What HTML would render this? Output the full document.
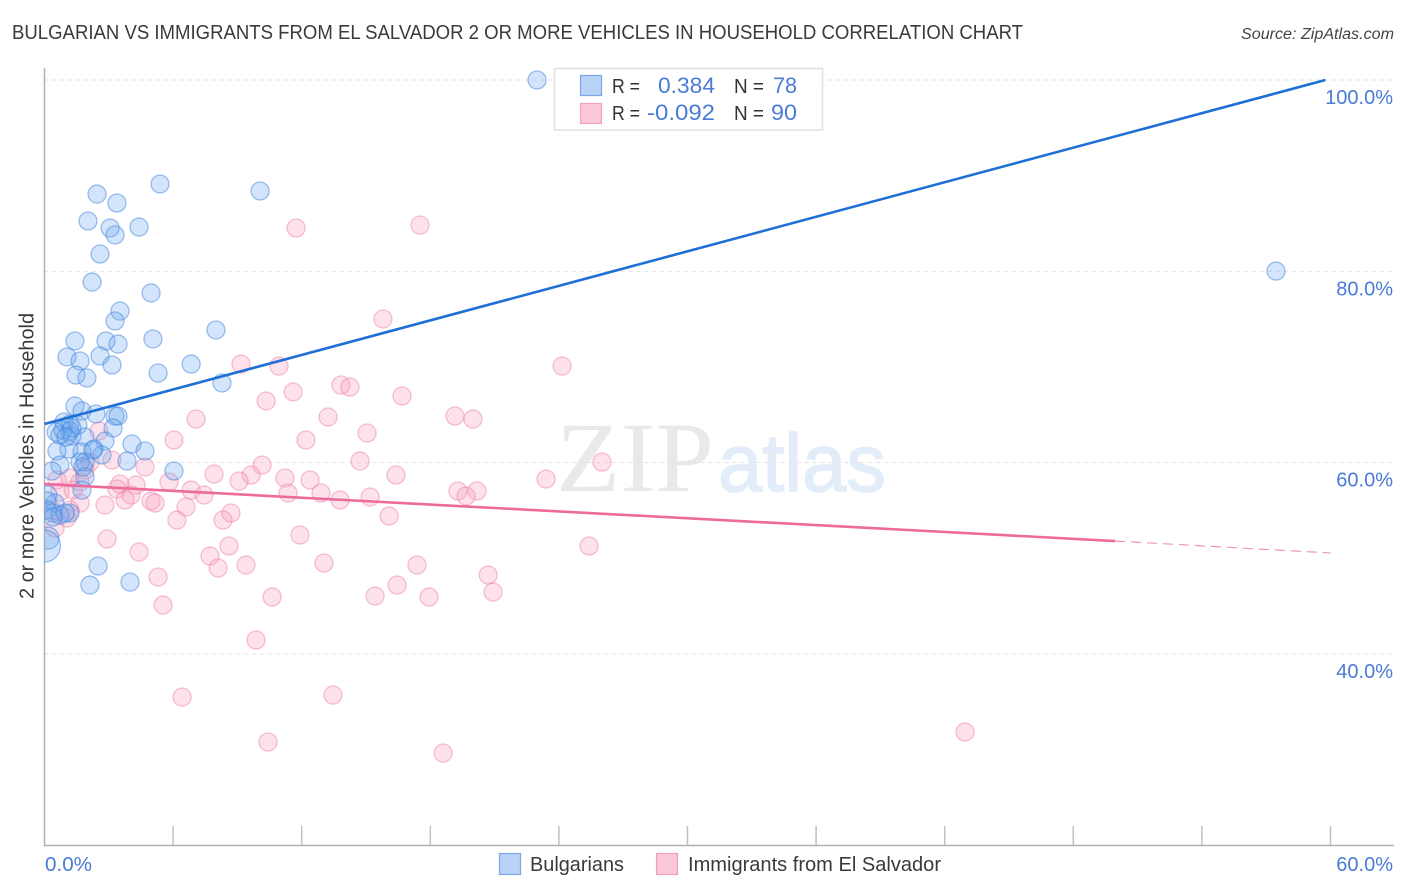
<!DOCTYPE html>
<html lang="en">
<head>
<meta charset="utf-8">
<title>Bulgarian vs Immigrants from El Salvador Correlation Chart</title>
<style>
  html, body { margin: 0; padding: 0; background: #fff; }
  body { width: 1406px; height: 892px; overflow: hidden; }
  svg { display: block; font-family: "Liberation Sans", sans-serif; }
</style>
</head>
<body>
<svg id="chart" xmlns="http://www.w3.org/2000/svg" width="1406" height="892" viewBox="0 0 1406 892">
  <defs>
    <clipPath id="plot-clip"><rect x="44.5" y="60" width="1350" height="786"/></clipPath>
  </defs>
  <rect x="0" y="0" width="1406" height="892" fill="#ffffff"/>
  <text x="12" y="39" font-size="20" fill="#3a3a3a" textLength="1011" lengthAdjust="spacingAndGlyphs">BULGARIAN VS IMMIGRANTS FROM EL SALVADOR 2 OR MORE VEHICLES IN HOUSEHOLD CORRELATION CHART</text>
  <text x="1241" y="39" font-size="15.5" font-style="italic" fill="#444" textLength="153" lengthAdjust="spacingAndGlyphs">Source: ZipAtlas.com</text>

  <g>
    <text x="556" y="491" font-family="'Liberation Serif', serif" font-size="100" fill="#e9e9e9" textLength="158" lengthAdjust="spacingAndGlyphs">ZIP</text>
    <text x="718" y="491" font-size="82" fill="#e3ecf9" stroke="#e3ecf9" stroke-width="1.5" textLength="168" lengthAdjust="spacingAndGlyphs">atlas</text>
  </g>

  <g id="grid"></g>
  <g id="axes"></g>
  <g id="pink-points" clip-path="url(#plot-clip)"></g>
  <g id="blue-points" clip-path="url(#plot-clip)"></g>
  <g id="trends"></g>
  <g id="tick-labels"></g>

  <text transform="translate(33.5,456) rotate(-90)" font-size="20" fill="#3a3a3a" text-anchor="middle" textLength="286" lengthAdjust="spacingAndGlyphs">2 or more Vehicles in Household</text>

  <g>
    <rect x="554.5" y="68.5" width="268" height="61.5" fill="#fff" stroke="#e0e0e0" stroke-width="1.5"/>
    <rect x="580.5" y="75.5" width="21" height="20" fill="#b9d3f6" stroke="#7aa8e6" stroke-width="1.2"/>
    <rect x="580.5" y="103.5" width="21" height="20" fill="#fbc8d9" stroke="#f0a0bc" stroke-width="1.2"/>
    <text x="612" y="93" font-size="20" fill="#333" textLength="28" lengthAdjust="spacingAndGlyphs">R =</text>
    <text x="658" y="93" font-size="22" fill="#4a7bd6" textLength="57" lengthAdjust="spacingAndGlyphs">0.384</text>
    <text x="734" y="93" font-size="20" fill="#333" textLength="30" lengthAdjust="spacingAndGlyphs">N =</text>
    <text x="773" y="93" font-size="22" fill="#4a7bd6" textLength="24" lengthAdjust="spacingAndGlyphs">78</text>
    <text x="612" y="120" font-size="20" fill="#333" textLength="28" lengthAdjust="spacingAndGlyphs">R =</text>
    <text x="647" y="120" font-size="22" fill="#4a7bd6" textLength="68" lengthAdjust="spacingAndGlyphs">-0.092</text>
    <text x="734" y="120" font-size="20" fill="#333" textLength="30" lengthAdjust="spacingAndGlyphs">N =</text>
    <text x="771" y="120" font-size="22" fill="#4a7bd6" textLength="26" lengthAdjust="spacingAndGlyphs">90</text>
  </g>

  <g>
    <rect x="499.5" y="853.5" width="21" height="21" fill="#b9d3f6" stroke="#7aa8e6" stroke-width="1.2"/>
    <text x="530" y="871" font-size="20" fill="#3a3a3a" textLength="94" lengthAdjust="spacingAndGlyphs">Bulgarians</text>
    <rect x="656.5" y="853.5" width="21" height="21" fill="#fbc8d9" stroke="#f0a0bc" stroke-width="1.2"/>
    <text x="688" y="871" font-size="20" fill="#3a3a3a" textLength="253" lengthAdjust="spacingAndGlyphs">Immigrants from El Salvador</text>
  </g>
</svg>
<script>
const bulgarianX = [22.98,5.39,2.45,10.06,3.38,2.03,4.41,3.06,3.29,2.59,2.22,4.97,3.52,3.29,8.0,1.42,5.06,2.87,3.43,1.05,2.59,1.66,6.84,3.15,5.30,1.47,1.98,8.28,1.42,1.75,2.40,3.29,3.43,0.91,1.19,0.54,0.72,1.19,3.2,1.28,1.89,2.82,4.08,4.69,1.14,0.58,2.31,1.75,2.68,3.85,1.66,1.89,0.72,0.35,6.04,1.89,1.75,0.16,0.49,0.12,0.40,1.19,0.12,0.72,2.5,2.12,3.99,0.16,0,57.46,0.86,1.56,1.28,1.0,1.8,2.26,0.96,0.40];
const bulgarianY = [100,89.13,88.08,88.40,87.14,85.26,84.63,84.53,83.8,81.81,78.88,77.74,75.85,74.81,73.87,72.72,72.93,72.72,72.4,71.05,71.15,70.63,70.31,70.21,69.37,69.16,68.85,68.33,65.92,65.4,65.09,64.88,64.88,64.25,64.04,63.2,62.89,63.31,63.62,62.79,62.68,62.26,61.95,61.22,61.43,61.22,61.43,61.11,60.8,60.17,60.07,60.07,59.75,59.13,59.13,58.5,57.14,56.62,55.78,56,54.74,54.74,55.05,54.53,49.2,47.21,47.52,52.12,51.29,80.03,63.41,63.93,63.62,62.68,59.55,61.32,54.74,54.32];
const bulgarianWeight = [1,1,1,1,1,1,1,1,1,1,1,1,1,1,1,1,1,1,1,1,1,1,1,1,1,1,1,1,1,1,1,1,1,1,1,1,1,1,1,1,1,1,1,1,1,1,1,1,1,1,1,1,1,1,1,1,1,1,1,1,1,1,1,1,1,1,1,1.5,3.16,1,1,1,1,1,1,1,1,1];
const immigrantX = [11.74,17.52,15.79,9.17,10.94,24.15,13.83,14.25,11.6,16.68,10.34,7.07,13.23,19.15,19.99,15.05,6.04,12.2,14.72,26.01,2.54,3.15,4.69,10.15,9.64,7.91,16.4,11.22,12.39,9.08,23.4,19.29,20.18,19.67,11.36,12.9,13.79,15.19,7.44,6.84,4.27,3.52,3.38,4.04,3.76,4.97,5.16,2.82,1.66,5.81,8.7,8.33,6.18,6.6,16.08,11.92,2.92,4.41,7.72,8.61,25.41,8.1,9.4,13.04,17.38,20.7,5.3,16.45,10.62,15.42,17.94,20.93,5.53,9.87,6.42,13.46,10.43,18.6,42.95,0.58,1.19,0.72,1.89,0.35,1.33,1.05,0.49,1.19,2.12,1.66];
const immigrantY = [84.53,84.84,75.02,70.31,70.1,70.1,68.12,67.91,67.39,66.97,66.45,64.56,64.77,64.88,64.56,63.1,62.37,62.37,60.17,60.07,63.31,60.28,59.55,59.75,58.71,58.81,58.71,58.4,58.19,58.08,58.29,57.04,57.04,56.51,56.83,56.83,56.1,56.41,56.62,57.14,57.66,57.77,57.25,56.62,56.1,55.99,55.78,55.57,55.78,57.98,54.74,54,54,55.36,54.42,52.44,52.02,50.66,50.24,51.29,51.29,48.99,49.3,49.51,49.3,48.26,48.05,47.21,45.96,46.06,45.96,46.48,45.12,41.46,35.5,35.71,30.8,29.65,31.84,58.19,58.4,56.93,59.23,55.05,57.14,54.21,53.17,55.05,60.07,57.98];
const bulgarianTrendX = [0,59.76];
const bulgarianTrendY = [64.04,100];
const immigrantTrendX = [0,49.95];
const immigrantTrendY = [57.77,51.81];
const immigrantDashX = [49.95,60];
const immigrantDashY = [51.81,50.56];
const xTickValues = [6,12,18,24,30,36,42,48,54,60];
const yTickValues = [100,80,60,40];
const yTickLabels = ["100.0%","80.0%","60.0%","40.0%"];
const xEndLabels = ["0.0%","60.0%"];

const NS = 'http://www.w3.org/2000/svg';
function xScale(v) { return 44.5 + v * 21.433; }
function yScale(v) { return 80 + (100 - v) * 9.567; }
function make(tag, attrs, parent) {
  const el = document.createElementNS(NS, tag);
  for (const k in attrs) el.setAttribute(k, attrs[k]);
  parent.appendChild(el);
  return el;
}

const grid = document.getElementById('grid');
const axes = document.getElementById('axes');
const tickLabels = document.getElementById('tick-labels');

yTickValues.forEach(function (v, i) {
  const line = make('line', { x1: 44.5, x2: 1394, y1: yScale(v), y2: yScale(v), stroke: '#e2e2e2', 'stroke-width': 1, 'stroke-dasharray': '4 4' }, grid);
  
  
  const label = make('text', { x: 1393, y: yScale(v) + 24, 'font-size': 20, fill: '#4a7bd6', 'text-anchor': 'end' }, tickLabels);
  
  
  label.textContent = yTickLabels[i];
});

const yAxisLine = make('line', { x1: 44.5, x2: 44.5, y1: 68, y2: 846, stroke: '#b0b0b0', 'stroke-width': 1.5 }, axes);


const xAxisLine = make('line', { x1: 44, x2: 1394, y1: 845.5, y2: 845.5, stroke: '#b0b0b0', 'stroke-width': 1.5 }, axes);



xTickValues.forEach(function (v) {
  const tick = make('line', { x1: xScale(v), x2: xScale(v), y1: 826, y2: 845, stroke: '#c0c0c0', 'stroke-width': 1.5 }, axes);
  
  
});

const xStart = make('text', { x: 45, y: 871, 'font-size': 20, fill: '#4a7bd6', textLength: 47, lengthAdjust: 'spacingAndGlyphs' }, tickLabels);


xStart.textContent = xEndLabels[0];
const xEnd = make('text', { x: 1393, y: 871, 'font-size': 20, fill: '#4a7bd6', 'text-anchor': 'end' }, tickLabels);


xEnd.textContent = xEndLabels[1];

const pinkLayer = document.getElementById('pink-points');
immigrantX.forEach(function (v, i) {
  const c = make('circle', { cx: xScale(v), cy: yScale(immigrantY[i]), r: 9, fill: 'rgba(248,160,190,0.3)', stroke: 'rgba(236,125,165,0.48)', 'stroke-width': 1.3 }, pinkLayer);
  
  
});

const blueLayer = document.getElementById('blue-points');
bulgarianX.forEach(function (v, i) {
  const c = make('circle', { cx: xScale(v), cy: yScale(bulgarianY[i]), r: 9 * Math.sqrt(bulgarianWeight[i]), fill: 'rgba(110,170,240,0.3)', stroke: 'rgba(65,130,222,0.5)', 'stroke-width': 1.3 }, blueLayer);
  
  
});

const trends = document.getElementById('trends');
const blueTrend = make('line', { x1: xScale(bulgarianTrendX[0]), y1: yScale(bulgarianTrendY[0]), x2: xScale(bulgarianTrendX[1]), y2: yScale(bulgarianTrendY[1]), stroke: '#1e6fd6', 'stroke-width': 2.6, 'stroke-linecap': 'butt' }, trends);


const pinkTrend = make('line', { x1: xScale(immigrantTrendX[0]), y1: yScale(immigrantTrendY[0]), x2: xScale(immigrantTrendX[1]), y2: yScale(immigrantTrendY[1]), stroke: '#ec6a9c', 'stroke-width': 2.6 }, trends);


const pinkDash = make('line', { x1: xScale(immigrantDashX[0]), y1: yScale(immigrantDashY[0]), x2: xScale(immigrantDashX[1]), y2: yScale(immigrantDashY[1]), stroke: '#ec8fb2', 'stroke-width': 1.1, 'stroke-dasharray': '10 6' }, trends);


</script>
</body>
</html>
